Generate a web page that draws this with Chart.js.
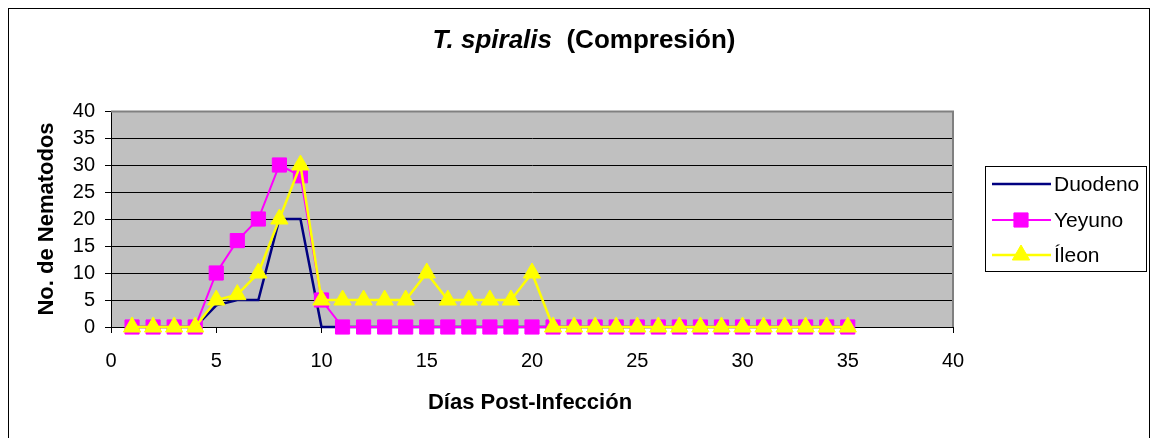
<!DOCTYPE html>
<html>
<head>
<meta charset="utf-8">
<script src="https://cdn.jsdelivr.net/npm/chart.js@4/dist/chart.umd.min.js"></script>
<style>
  html, body { margin: 0; padding: 0; background: #fff; }
  #wrap { width: 1153px; height: 438px; }
</style>
</head>
<body>
<div id="wrap"><canvas id="chart" width="1153" height="438"></canvas></div>
<script>
// days post infection
const days = [1, 2, 3, 4, 5, 6, 7, 8, 9, 10, 11, 12, 13, 14, 15, 16, 17, 18,
    19, 20, 21, 22, 23, 24, 25, 26, 27, 28, 29, 30, 31, 32, 33, 34, 35];

const duodeno = [0, 0, 0, 0, 4, 5, 5, 20, 20, 0, 0, 0, 0, 0, 0, 0, 0, 0,
    0, 0, 0, 0, 0, 0, 0, 0, 0, 0, 0, 0, 0, 0, 0, 0, 0];
const yeyuno = [0, 0, 0, 0, 10, 16, 20, 30, 28, 5, 0, 0, 0, 0, 0, 0, 0, 0,
    0, 0, 0, 0, 0, 0, 0, 0, 0, 0, 0, 0, 0, 0, 0, 0, 0];
const ileon = [0, 0, 0, 0, 5, 6, 10, 20, 30, 5, 5, 5, 5, 5, 10, 5, 5, 5,
    5, 10, 0, 0, 0, 0, 0, 0, 0, 0, 0, 0, 0, 0, 0, 0, 0];

const seriesNames = ['Duodeno', 'Yeyuno', 'Íleon'];
const xTicks = [0, 5, 10, 15, 20, 25, 30, 35, 40];
const yTicks = [0, 5, 10, 15, 20, 25, 30, 35, 40];

const FONT = '"Liberation Sans", Arial, sans-serif';

const toPoints = arr => arr.map((v, i) => ({ x: days[i], y: v }));

// Excel-like frame, title, axis titles and legend
const decorations = {
    id: 'decorations',
    beforeDraw(chart) {
        const { ctx, chartArea: a } = chart;
        ctx.save();
        ctx.fillStyle = '#c0c0c0';
        ctx.fillRect(a.left, a.top, a.right - a.left, a.bottom - a.top);
        ctx.restore();
    },
    afterDraw(chart) {
        const { ctx, chartArea: a } = chart;
        ctx.save();

        // outer frame
        ctx.strokeStyle = '#000';
        ctx.lineWidth = 1;
        ctx.strokeRect(8.5, 8.5, 1141, 450);

        // plot border (top / right)
        ctx.strokeStyle = '#808080';
        ctx.lineWidth = 2;
        ctx.beginPath();
        ctx.moveTo(a.left, a.top + 0.5);
        ctx.lineTo(a.right, a.top + 0.5);
        ctx.lineTo(a.right, a.bottom);
        ctx.stroke();

        // title
        ctx.fillStyle = '#000';
        ctx.textBaseline = 'alphabetic';
        const part1 = 'T. spiralis';
        const part2 = '  (Compresión)';
        ctx.font = 'italic bold 26px ' + FONT;
        const w1 = ctx.measureText(part1).width;
        ctx.font = 'bold 26px ' + FONT;
        const w2 = ctx.measureText(part2).width;
        const tx = 584 - (w1 + w2) / 2;
        ctx.textAlign = 'left';
        ctx.font = 'italic bold 26px ' + FONT;
        ctx.fillText(part1, tx, 48);
        ctx.font = 'bold 26px ' + FONT;
        ctx.fillText(part2, tx + w1, 48);

        // axis titles
        ctx.font = 'bold 22px ' + FONT;
        ctx.textAlign = 'center';
        ctx.fillText('Días Post-Infección', 530, 409);
        ctx.save();
        ctx.translate(53, (a.top + a.bottom) / 2);
        ctx.rotate(-Math.PI / 2);
        ctx.fillText('No. de Nematodos', 0, 0);
        ctx.restore();

        // legend
        ctx.fillStyle = '#fff';
        ctx.fillRect(985, 166, 161, 105);
        ctx.strokeStyle = '#000';
        ctx.lineWidth = 1;
        ctx.strokeRect(985.5, 166.5, 161, 105);
        const rows = [184, 220, 255];
        chart.data.datasets.forEach((ds, i) => {
            const y = rows[i];
            ctx.strokeStyle = ds.borderColor;
            ctx.lineWidth = ds.borderWidth;
            ctx.beginPath();
            ctx.moveTo(992, y);
            ctx.lineTo(1051, y);
            ctx.stroke();
            if (ds.pointRadius > 0) {
                ctx.fillStyle = ds.pointBackgroundColor;
                ctx.strokeStyle = ds.pointBorderColor;
                ctx.lineWidth = 1;
                Chart.helpers.drawPoint(ctx, {
                    pointStyle: ds.pointStyle,
                    radius: ds.pointRadius,
                    borderWidth: 1
                }, 1021, y);
            }
            ctx.fillStyle = '#000';
            ctx.font = '21px ' + FONT;
            ctx.textAlign = 'left';
            ctx.textBaseline = 'middle';
            ctx.fillText(ds.label, 1054, y + 1);
        });

        ctx.restore();
    }
};

new Chart(document.getElementById('chart'), {
    type: 'line',
    data: {
        datasets: [
            {
                label: seriesNames[0],
                data: toPoints(duodeno),
                borderColor: '#000080',
                borderWidth: 2.5,
                pointRadius: 0,
                order: 3
            },
            {
                label: seriesNames[1],
                data: toPoints(yeyuno),
                borderColor: '#ff00ff',
                borderWidth: 2,
                pointStyle: 'rect',
                pointRadius: 10,
                pointBackgroundColor: '#ff00ff',
                pointBorderColor: '#ff00ff',
                pointBorderWidth: 1,
                order: 2
            },
            {
                label: seriesNames[2],
                data: toPoints(ileon),
                borderColor: '#ffff00',
                borderWidth: 2.5,
                pointStyle: 'triangle',
                pointRadius: 10,
                pointBackgroundColor: '#ffff00',
                pointBorderColor: '#ffff00',
                pointBorderWidth: 1,
                order: 1
            }
        ]
    },
    options: {
        responsive: false,
        animation: false,
        clip: false,
        layout: { padding: { left: 0, right: 200, top: 111, bottom: 0 } },
        plugins: {
            legend: { display: false },
            title: { display: false },
            tooltip: { enabled: false }
        },
        elements: { line: { tension: 0 } },
        scales: {
            x: {
                type: 'linear',
                min: 0,
                max: 40,
                afterFit: s => { s.height = 111; },
                afterBuildTicks: s => { s.ticks = xTicks.map(v => ({ value: v })); },
                border: { display: true, color: '#000', width: 1 },
                grid: { drawOnChartArea: false, drawTicks: true, tickLength: 6, color: '#000' },
                ticks: { color: '#000', font: { family: FONT, size: 20 }, padding: 16, maxRotation: 0 }
            },
            y: {
                min: 0,
                max: 40,
                afterFit: s => { s.width = 111; },
                afterBuildTicks: s => { s.ticks = yTicks.map(v => ({ value: v })); },
                border: { display: true, color: '#000', width: 1 },
                grid: { color: '#000', lineWidth: 1, tickLength: 6, drawTicks: true },
                ticks: { color: '#000', font: { family: FONT, size: 20 }, padding: 10 }
            }
        }
    },
    plugins: [decorations]
});
</script>
</body>
</html>
